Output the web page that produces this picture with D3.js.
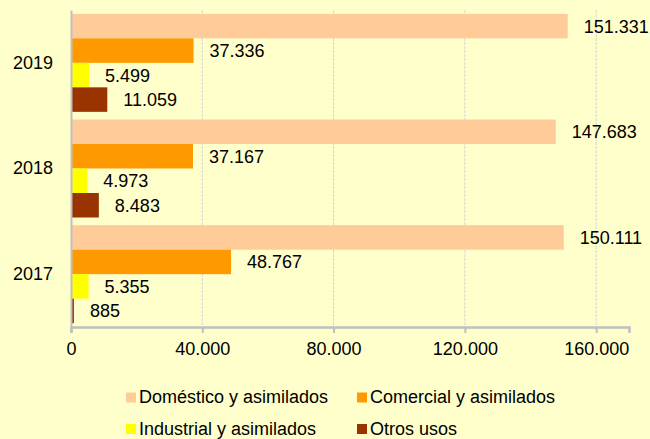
<!DOCTYPE html>
<html>
<head>
<meta charset="utf-8">
<script src="https://cdn.jsdelivr.net/npm/d3@7"></script>
<style>
  html, body { margin: 0; padding: 0; background: #FFFFCC; }
  svg { display: block; font-family: "Liberation Sans", Arial, sans-serif; }
</style>
</head>
<body>
<svg id="chart"></svg>
<script>
// Data
const years = ['2019', '2018', '2017'];
const seriesNames = ['Doméstico y asimilados', 'Comercial y asimilados', 'Industrial y asimilados', 'Otros usos'];
const domestico = [151331, 147683, 150111];
const comercial = [37336, 37167, 48767];
const industrial = [5499, 4973, 5355];
const otros = [11059, 8483, 885];
const xTicks = [0, 40000, 80000, 120000, 160000];
const seriesColors = ['#FFCC99', '#FF9900', '#FFFF00', '#993300'];

const seriesValues = [domestico, comercial, industrial, otros];
const data = [];
years.forEach((y, i) => {
  seriesNames.forEach((s, j) => data.push({ year: y, series: s, value: seriesValues[j][i] }));
});

const width = 650, height = 439;
const margin = { top: 10, right: 21, bottom: 112, left: 71 };

const svg = d3.select('#chart')
  .attr('width', width)
  .attr('height', height)
  .attr('viewBox', [0, 0, width, height]);

svg.append('rect').attr('width', width).attr('height', height).attr('fill', '#FFFFCC');

// Scales
const x = d3.scaleLinear([0, 170000], [margin.left, width - margin.right]);
const y0 = d3.scaleBand(years, [margin.top, height - margin.bottom])
  .paddingInner(0.0725)
  .paddingOuter(0.03625);
const y1 = d3.scaleBand(seriesNames, [0, y0.bandwidth()]);
const color = d3.scaleOrdinal(seriesNames, seriesColors);

const fmt = v => d3.format(',')(v).replace(/,/g, '.');

// Gridlines
svg.append('g')
  .selectAll('line')
  .data(xTicks.filter(d => d > 0))
  .join('line')
    .attr('x1', d => x(d)).attr('x2', d => x(d))
    .attr('y1', margin.top).attr('y2', height - margin.bottom)
    .attr('stroke', '#D6D6C8')
    .attr('stroke-width', 1)
    .attr('stroke-dasharray', '3,1');

// Bars
const groups = svg.append('g')
  .selectAll('g')
  .data(years)
  .join('g')
    .attr('transform', d => `translate(0,${y0(d)})`);

groups.selectAll('rect')
  .data(yr => data.filter(d => d.year === yr))
  .join('rect')
    .attr('x', x(0))
    .attr('y', d => y1(d.series))
    .attr('width', d => x(d.value) - x(0))
    .attr('height', y1.bandwidth())
    .attr('fill', d => color(d.series));

// Value labels
groups.selectAll('text')
  .data(yr => data.filter(d => d.year === yr))
  .join('text')
    .attr('x', d => x(d.value) + 16)
    .attr('y', d => y1(d.series) + y1.bandwidth() / 2)
    .attr('dy', '0.36em')
    .attr('font-size', 18)
    .attr('fill', '#000')
    .text(d => fmt(d.value));

// X axis
const xAxis = svg.append('g')
  .attr('transform', `translate(0,${height - margin.bottom})`)
  .call(d3.axisBottom(x).tickValues(xTicks).tickFormat(fmt).tickSizeOuter(0).tickSize(6));
xAxis.select('.domain').attr('stroke', '#BFBFBF').attr('stroke-width', 2.5);
xAxis.selectAll('.tick line').attr('stroke', '#BFBFBF').attr('stroke-width', 2);
xAxis.selectAll('.tick text')
  .attr('font-size', 18)
  .attr('font-family', '"Liberation Sans", Arial, sans-serif')
  .attr('fill', '#000')
  .attr('dy', 0)
  .attr('y', 28);

// Y axis
const yAxis = svg.append('g')
  .attr('transform', `translate(${margin.left},0)`)
  .call(d3.axisLeft(y0).tickSize(0).tickSizeOuter(0).tickPadding(18));
yAxis.select('.domain').attr('stroke', '#BFBFBF').attr('stroke-width', 2);
yAxis.selectAll('.tick text')
  .attr('font-size', 18)
  .attr('font-family', '"Liberation Sans", Arial, sans-serif')
  .attr('fill', '#000');

// Legend (two rows, baseline positions)
const legendPos = [[126, 403], [357, 403], [126, 434.5], [357, 434.5]];
const legend = svg.append('g')
  .selectAll('g')
  .data(seriesNames)
  .join('g')
    .attr('transform', (d, i) => `translate(${legendPos[i][0]},${legendPos[i][1]})`);
legend.append('rect')
  .attr('x', 0).attr('y', -10.5)
  .attr('width', 10).attr('height', 10)
  .attr('fill', d => color(d));
legend.append('text')
  .attr('x', 13)
  .attr('y', 0)
  .attr('font-size', 18)
  .attr('fill', '#000')
  .text(d => d);
</script>
</body>
</html>
